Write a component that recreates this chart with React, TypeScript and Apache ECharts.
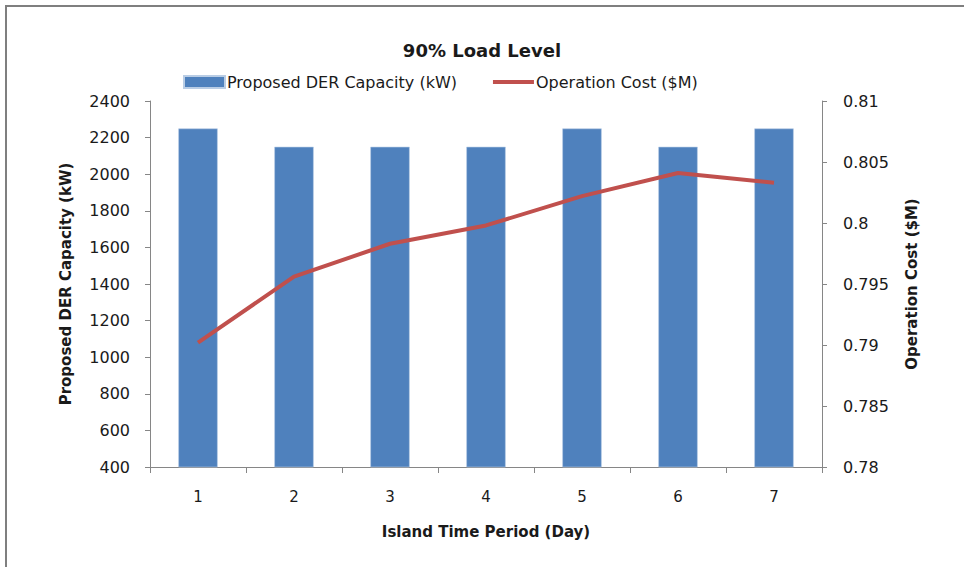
import React, { useEffect, useRef } from "react";
import * as echarts from "echarts";

const days = ["1", "2", "3", "4", "5", "6", "7"];
const derCapacity = [2250, 2150, 2150, 2150, 2250, 2150, 2250];
const operationCost = [0.7902, 0.7956, 0.7983, 0.7998, 0.8022, 0.8041, 0.8033];

const FONT = "DejaVu Sans";
const AXIS_GRAY = "#868686";
const TEXT = "#1a1a1a";

// thick horizontal stroke used as the line series' legend key
const LINE_KEY = "path://M0,0M41,12M0,4H41V8H0Z";

export default function App() {
  const ref = useRef<HTMLDivElement>(null);

  useEffect(() => {
    document.body.style.margin = "0";
    if (!ref.current) return;
    const chart = echarts.init(ref.current, null, { renderer: "svg" });
    chart.setOption({
      animation: false,
      backgroundColor: "#ffffff",
      textStyle: { fontFamily: FONT },
      title: {
        text: "90% Load Level",
        left: "center",
        top: 36,
        textStyle: { fontFamily: FONT, fontSize: 18, fontWeight: "bold", color: TEXT },
      },
      legend: {
        top: 69,
        left: 178,
        itemWidth: 41,
        itemHeight: 12,
        itemGap: 36,
        textStyle: { fontFamily: FONT, fontSize: 16, color: TEXT, padding: [0, 0, 0, -3] },
        data: [
          { name: "Proposed DER Capacity (kW)", icon: "rect" },
          { name: "Operation Cost ($M)", icon: LINE_KEY, itemStyle: { color: "#C0504D" } },
        ],
      },
      grid: { left: 150, right: 142, top: 101, bottom: 100 },
      xAxis: {
        type: "category",
        data: days,
        boundaryGap: true,
        name: "Island Time Period (Day)",
        nameLocation: "middle",
        nameGap: 57,
        nameTextStyle: { fontFamily: FONT, fontSize: 15, fontWeight: "bold", color: TEXT },
        axisLine: { lineStyle: { color: AXIS_GRAY, width: 1 } },
        axisTick: { show: true, inside: false, length: 6, alignWithLabel: false, lineStyle: { color: AXIS_GRAY } },
        axisLabel: { fontFamily: FONT, fontSize: 15, color: TEXT, margin: 22 },
        splitLine: { show: false },
      },
      yAxis: [
        {
          type: "value",
          min: 400,
          max: 2400,
          interval: 200,
          position: "left",
          name: "Proposed DER Capacity (kW)",
          nameLocation: "middle",
          nameRotate: 90,
          nameGap: 77,
          nameTextStyle: { fontFamily: FONT, fontSize: 15, fontWeight: "bold", color: TEXT },
          axisLine: { show: true, lineStyle: { color: AXIS_GRAY, width: 1 } },
          axisTick: { show: true, length: 5, lineStyle: { color: AXIS_GRAY } },
          axisLabel: {
            fontFamily: FONT,
            fontSize: 16,
            color: TEXT,
            margin: 20,
            formatter: (v: number) => String(v),
          },
          splitLine: { show: false },
        },
        {
          type: "value",
          min: 0.78,
          max: 0.81,
          interval: 0.005,
          position: "right",
          name: "Operation Cost ($M)",
          nameLocation: "middle",
          nameRotate: 90,
          nameGap: 82,
          nameTextStyle: { fontFamily: FONT, fontSize: 15, fontWeight: "bold", color: TEXT },
          axisLine: { show: true, lineStyle: { color: AXIS_GRAY, width: 1 } },
          axisTick: { show: true, length: 5, lineStyle: { color: AXIS_GRAY } },
          axisLabel: {
            fontFamily: FONT,
            fontSize: 16,
            color: TEXT,
            margin: 21,
            formatter: (v: number) => String(+v.toFixed(3)),
          },
          splitLine: { show: false },
        },
      ],
      series: [
        {
          name: "Proposed DER Capacity (kW)",
          type: "bar",
          yAxisIndex: 0,
          data: derCapacity,
          barWidth: "41%",
          itemStyle: { color: "#4F81BD", borderColor: "#B9CDE5", borderWidth: 0.6 },
        },
        {
          name: "Operation Cost ($M)",
          type: "line",
          yAxisIndex: 1,
          data: operationCost,
          symbol: "none",
          lineStyle: { color: "#C0504D", width: 4 },
          itemStyle: { color: "#C0504D" },
        },
      ],
      graphic: [
        {
          type: "line",
          shape: { x1: 5, y1: 6, x2: 964, y2: 6 },
          style: { stroke: "#7f7f7f", lineWidth: 2 },
        },
        {
          type: "line",
          shape: { x1: 6, y1: 5, x2: 6, y2: 567 },
          style: { stroke: "#7f7f7f", lineWidth: 2 },
        },
      ],
    });
    return () => chart.dispose();
  }, []);

  return <div ref={ref} style={{ width: 964, height: 567 }} />;
}
